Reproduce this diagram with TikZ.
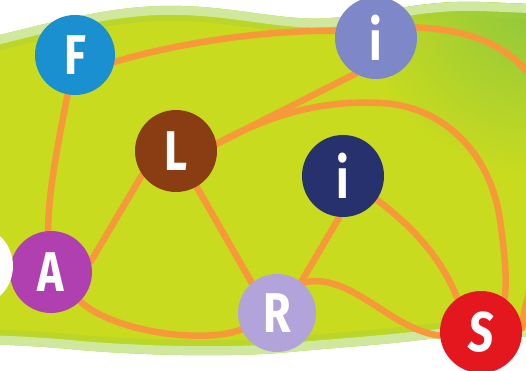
\documentclass[tikz,border=0pt]{standalone}
\usepackage{graphicx}
\usepackage{fontspec}
\setmainfont{Fira Sans}
\pgfdeclarelayer{blob}
\pgfdeclarelayer{edges}
\pgfsetlayers{blob,edges,main}
\definecolor{grass}{HTML}{C8DB1E}
\definecolor{grassdark}{HTML}{A3D03A}
\definecolor{grasstop}{HTML}{8CC63F}
\definecolor{grassrim}{HTML}{CFE89E}
\definecolor{linkorange}{HTML}{F7993A}
\definecolor{nodeF}{HTML}{1A90D0}
\definecolor{nodeIa}{HTML}{7E88C8}
\definecolor{nodeL}{HTML}{8A3C12}
\definecolor{nodeIb}{HTML}{27316E}
\definecolor{nodeA}{HTML}{B03FB0}
\definecolor{nodeR}{HTML}{B2A3DB}
\definecolor{nodeS}{HTML}{E4161E}
\newcommand\blobpath{(-40,44) .. controls (20,32) and (90,8) .. (160,6) .. controls (230,4) and (280,22) .. (330,18) .. controls (380,14) and (420,0) .. (480,2) .. controls (510,3) and (540,5) .. (580,5) -- (580,336) .. controls (500,338) and (460,335) .. (420,340) .. controls (380,345) and (330,348) .. (290,352) .. controls (240,357) and (150,356) .. (80,350) .. controls (40,346) and (0,344) .. (-40,344) -- cycle}
\newcommand\nodelabel[1]{\scalebox{0.8}[1]{#1}}
\begin{document}
\begin{tikzpicture}[x=1pt,y=-1pt,
  vertex/.style={circle, minimum size=82pt, inner sep=0pt, text=white,
    font=\bfseries\fontsize{56}{56}\selectfont},
  link/.style={draw=linkorange, line width=6.5pt, line cap=round}]
\useasboundingbox (0,0) rectangle (526,371);
% nodes
\node[vertex, fill=nodeF, minimum size=80pt] (F) at (75,55) {\nodelabel{F}};
\node[vertex, fill=nodeIa] (I1) at (376,38) {\nodelabel{i}};
\node[vertex, fill=nodeL] (L) at (176,151) {\nodelabel{L}};
\node[vertex, fill=nodeIb] (I2) at (343,176) {\nodelabel{i}};
\node[vertex, fill=nodeA] (A) at (51,272) {\nodelabel{A}};
\node[vertex, fill=nodeR, minimum size=78pt] (R) at (277,313) {\nodelabel{R}};
\node[vertex, fill=nodeS] (S) at (481,332) {\nodelabel{\itshape S}};
\node[vertex, fill=white] (W) at (-28,266) {};
% background
\begin{pgfonlayer}{blob}
  \fill[grass] \blobpath;
  \begin{scope}
    \clip \blobpath;
    \shade[inner color=grasstop, outer color=grass] (535,-5) circle (180);
    \draw[grassdark, opacity=0.4, line width=30pt] \blobpath;
    \draw[grassrim, line width=18pt] \blobpath;
  \end{scope}
\end{pgfonlayer}
% connectors
\begin{pgfonlayer}{edges}
  \draw[link] (F.-10) .. controls (180,42) and (270,30) .. (I1.170);
  \draw[link] (F.center) .. controls (62,130) and (40,210) .. (A.center);
  \draw[link] (L.215) -- (A.15);
  \draw[link] (L.300) -- (R.130);
  \draw[link] (A.-45) .. controls (110,330) and (200,345) .. (R.205);
  \draw[link] (L.10) -- (I1.240);
  \draw[link] (L.10) .. controls (270,115) and (320,100) .. (380,103)
     .. controls (440,105) and (490,150) .. (500,220)
     .. controls (505,255) and (507,280) .. (S.55);
  \draw[link] (I1.15) .. controls (470,30) and (545,45) .. (558,150)
     .. controls (565,240) and (526,272) .. (S.5);
  \draw[link] (I2.265) -- (R.52);
  \draw[link] (I2.-35) .. controls (410,225) and (440,255) .. (S.125);
  \draw[link] (R.50) .. controls (350,270) and (390,330) .. (S.185);
\end{pgfonlayer}
\end{tikzpicture}
\end{document}
